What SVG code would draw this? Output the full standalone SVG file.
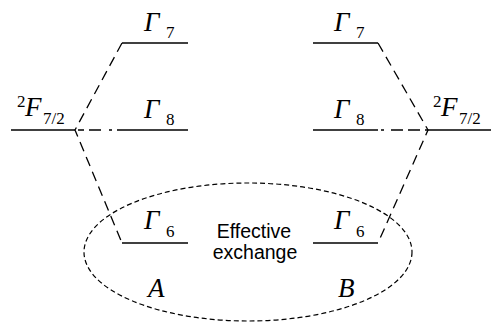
<svg xmlns="http://www.w3.org/2000/svg" width="491" height="322" viewBox="0 0 491 322">
<style>
.lvl{stroke:#000;stroke-width:1.3;fill:none}
.dash{stroke:#000;stroke-width:1.3;fill:none;stroke-dasharray:10,6}
.ell{stroke:#000;stroke-width:1.2;fill:none;stroke-dasharray:5,3}
.g{font-family:"Liberation Serif",serif;font-style:italic;font-size:27px;fill:#000}
.sub{font-family:"Liberation Serif",serif;font-size:17px;fill:#000}
.lab{font-family:"Liberation Sans",Arial,sans-serif;font-size:19.5px;fill:#000;text-anchor:middle}
</style>
<rect width="491" height="322" fill="#fff"/>
<g id="connectors">
<path class="dash" d="M122,43 L75,130 L122,243"/>
<path class="dash" d="M378,43 L428,130 L378,243"/>
<path class="lvl" stroke-dasharray="0,3 6,5 12,8 3,5 20" d="M75,130 L122,130"/>
<path class="lvl" stroke-dasharray="0,3 3,7 12,5 12,5 20" d="M378,130 L428,130"/>
</g>
<g id="A-2F72"><line class="lvl" x1="11" y1="130" x2="75" y2="130"/><text class="sub" x="17" y="107">2</text><text class="g" x="25" y="116">F</text><text class="sub" x="43" y="124">7/2</text></g>
<g id="A-G7"><line class="lvl" x1="122" y1="43" x2="188" y2="43"/><text class="g" x="144" y="31">Γ</text><text class="sub" x="166" y="38">7</text></g>
<g id="A-G8"><line class="lvl" x1="122" y1="130" x2="188" y2="130"/><text class="g" x="144" y="118">Γ</text><text class="sub" x="166" y="125">8</text></g>
<g id="A-G6"><line class="lvl" x1="122" y1="243" x2="188" y2="243"/><text class="g" x="144" y="229">Γ</text><text class="sub" x="166" y="237">6</text></g>
<g id="B-2F72"><line class="lvl" x1="428" y1="130" x2="491" y2="130"/><text class="sub" x="433" y="107">2</text><text class="g" x="441" y="116">F</text><text class="sub" x="459" y="124">7/2</text></g>
<g id="B-G7"><line class="lvl" x1="313" y1="43" x2="378" y2="43"/><text class="g" x="334" y="31">Γ</text><text class="sub" x="356" y="38">7</text></g>
<g id="B-G8"><line class="lvl" x1="313" y1="130" x2="378" y2="130"/><text class="g" x="334" y="118">Γ</text><text class="sub" x="356" y="125">8</text></g>
<g id="B-G6"><line class="lvl" x1="313" y1="243" x2="378" y2="243"/><text class="g" x="334" y="229">Γ</text><text class="sub" x="356" y="237">6</text></g>
<g id="exchange"><ellipse class="ell" cx="248" cy="252" rx="164" ry="69"/><text class="lab" x="254" y="238">Effective</text><text class="lab" x="255" y="259">exchange</text></g>
<g id="labelA"><text class="g" x="148" y="297" font-size="26">A</text></g>
<g id="labelB"><text class="g" x="338" y="297" font-size="26">B</text></g>
</svg>
